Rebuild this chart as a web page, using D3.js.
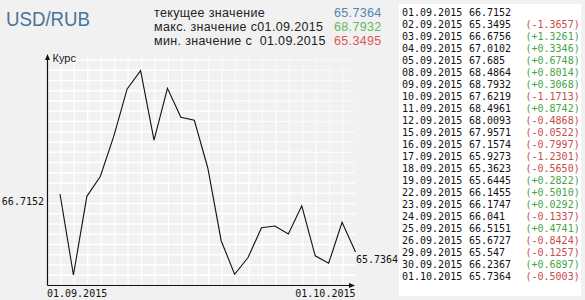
<!DOCTYPE html>
<html><head><meta charset="utf-8">
<script src="https://cdn.jsdelivr.net/npm/d3@7"></script>
<style>
html,body{margin:0;padding:0;background:#f1f1f1;}
svg{display:block;}
</style></head>
<body>
<svg id="c" width="585" height="300"></svg>
<script>
const dates = ["01.09.2015","02.09.2015","03.09.2015","04.09.2015","05.09.2015","08.09.2015","09.09.2015","10.09.2015","11.09.2015","12.09.2015","15.09.2015","16.09.2015","17.09.2015","18.09.2015","19.09.2015","22.09.2015","23.09.2015","24.09.2015","25.09.2015","26.09.2015","29.09.2015","30.09.2015","01.10.2015"];
const values = [66.7152,65.3495,66.6756,67.0102,67.685,68.4864,68.7932,67.6219,68.4961,68.0093,67.9571,67.1574,65.9273,65.3623,65.6445,66.1455,66.1747,66.041,66.5151,65.6727,65.547,66.2367,65.7364];
const changes = [null,"-1.3657","+1.3261","+0.3346","+0.6748","+0.8014","+0.3068","-1.1713","+0.8742","-0.4868","-0.0522","-0.7997","-1.2301","-0.5650","+0.2822","+0.5010","+0.0292","-0.1337","+0.4741","-0.8424","-0.1257","+0.6897","-0.5003"];
const title = "USD/RUB";
const summaryLabels = ["текущее значение","макс. значение с01.09.2015","мин. значение с  01.09.2015"];
const summaryValues = ["65.7364","68.7932","65.3495"];

const svg = d3.select("#c");
const mono = "'DejaVu Sans Mono', monospace";
const sans = "'Liberation Sans', Arial, sans-serif";

const x = d3.scalePoint().domain(dates).range([60, 355.5]);
const y = d3.scaleLinear().domain(d3.extent(values)).range([275, 70.7]);
const X0 = 47.5, Y0 = 285.5, XT = 355, YT = 54;

// grid with fade mask
const defs = svg.append("defs");
const lg = defs.append("linearGradient").attr("id","fade").attr("x1","0").attr("y1","1").attr("x2","1").attr("y2","0");
lg.append("stop").attr("offset","0").attr("stop-color","#fff");
lg.append("stop").attr("offset","0.55").attr("stop-color","#fff");
lg.append("stop").attr("offset","1").attr("stop-color","#555");
const m = defs.append("mask").attr("id","gm");
m.append("rect").attr("x",X0).attr("y",YT).attr("width",XT-X0).attr("height",Y0-YT).attr("fill","url(#fade)");

const grid = svg.append("g").attr("mask","url(#gm)").attr("stroke","#ffffff").attr("stroke-width",1.3);
const step = x.step();
for (let gx = X0 + step; gx < XT; gx += step) {
  grid.append("line").attr("x1",gx).attr("x2",gx).attr("y1",YT+4).attr("y2",Y0);
}
for (let gy = Y0 - 10.25; gy > YT + 4; gy -= 10.25) {
  grid.append("line").attr("x1",X0).attr("x2",XT).attr("y1",gy).attr("y2",gy);
}

// axes
svg.append("line").attr("x1",X0).attr("x2",X0).attr("y1",YT+3).attr("y2",Y0).attr("stroke","#111").attr("stroke-width",1.2);
svg.append("line").attr("x1",X0).attr("x2",XT-3).attr("y1",Y0).attr("y2",Y0).attr("stroke","#111").attr("stroke-width",1.2);
svg.append("path").attr("d",`M${X0},${YT} L${X0-2.5},${YT+6} L${X0+2.5},${YT+6}Z`).attr("fill","#111");
svg.append("path").attr("d",`M${XT},${Y0} L${XT-6},${Y0-2.5} L${XT-6},${Y0+2.5}Z`).attr("fill","#111");
svg.append("text").attr("x",52.5).attr("y",61.5).attr("font-family",sans).attr("font-size",11).attr("fill","#222").text("Курс");

// line
const line = d3.line().x((d,i)=>x(dates[i])).y(d=>y(d));
svg.append("path").datum(values).attr("d",line).attr("fill","none").attr("stroke","#111").attr("stroke-width",1.1);

// axis labels
svg.append("text").attr("x",44).attr("y",204.5).attr("text-anchor","end").attr("font-family",mono).attr("font-size",10).attr("fill","#111").text(values[0].toFixed(4));
svg.append("text").attr("x",x(dates[dates.length-1])+0.5).attr("y",262.5).attr("font-family",mono).attr("font-size",10).attr("fill","#111").text(values[values.length-1].toFixed(4));
svg.append("text").attr("x",47).attr("y",297).attr("font-family",mono).attr("font-size",10).attr("fill","#111").text(dates[0]);
svg.append("text").attr("x",355.5).attr("y",297).attr("text-anchor","end").attr("font-family",mono).attr("font-size",10).attr("fill","#111").text(dates[dates.length-1]);

// header
svg.append("text").attr("x",6).attr("y",26).attr("font-family",sans).attr("font-size",21).attr("fill","#4a7398")
  .attr("textLength",84).attr("lengthAdjust","spacingAndGlyphs").text(title);
const sumColors = ["#4f86b3","#5dbb5d","#e05555"];
summaryLabels.forEach((t,i)=>{
  svg.append("text").attr("x",154).attr("y",17+i*14).attr("font-family",sans).attr("font-size",12.5).attr("letter-spacing",0.35).attr("fill","#222").style("white-space","pre").text(t);
  svg.append("text").attr("x",334).attr("y",17+i*14).attr("font-family",sans).attr("font-size",12.5).attr("letter-spacing",0.35).attr("fill",sumColors[i]).text(summaryValues[i]);
});

// table
svg.append("rect").attr("x",399).attr("y",4).attr("width",182).attr("height",292).attr("fill","#ffffff");
const rows = svg.append("g").attr("font-family",mono).attr("font-size",10);
dates.forEach((d,i)=>{
  const yy = 16.3 + i*12;
  rows.append("text").attr("x",402).attr("y",yy).attr("fill","#111").text(d);
  rows.append("text").attr("x",469).attr("y",yy).attr("fill","#111").text(String(values[i]));
  if (changes[i]) {
    rows.append("text").attr("x",525.5).attr("y",yy).attr("fill",changes[i][0]==="-"?"#c94a4a":"#46a546").text("("+changes[i]+")");
  }
});
</script>
</body></html>
